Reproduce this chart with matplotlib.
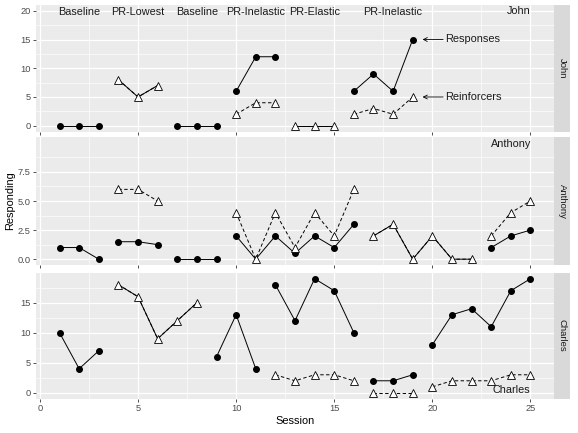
import numpy as np
import matplotlib
matplotlib.use("Agg")
import matplotlib.pyplot as plt
from matplotlib.ticker import FixedLocator

plt.rcParams['font.family'] = ['Liberation Sans', 'DejaVu Sans']

N = np.nan
sessions = list(range(1, 26))

subjects = ["John", "Anthony", "Charles"]

john_phase = [1,1,1, 2,2,2, 3,3,3, 4,4,4, 5,5,5, 6,6,6,6, 0,0,0,0,0,0]
john_resp  = [0,0,0, 8,5,7, 0,0,0, 6,12,12, 0,0,0, 6,9,6,15, N,N,N,N,N,N]
john_reinf = [N,N,N, 8,5,7, N,N,N, 2,4,4, 0,0,0, 2,3,2,5, N,N,N,N,N,N]

anthony_phase = [1,1,1, 2,2,2, 3,3,3, 4,4,4,4,4,4,4, 5,5,5,5,5,5, 6,6,6]
anthony_resp  = [1,1,0, 1.5,1.5,1.25, 0,0,0, 2,0,2,0.5,2,1,3, 2,3,0,2,0,0, 1,2,2.5]
anthony_reinf = [N,N,N, 6,6,5, N,N,N, 4,0,4,1,4,2,6, 2,3,0,2,0,0, 2,4,5]

charles_phase = [1,1,1, 2,2,2,2,2, 3,3,3, 4,4,4,4,4, 5,5,5, 6,6,6,6,6,6]
charles_resp  = [10,4,7, 18,16,9,12,15, 6,13,4, 18,12,19,17,10, 2,2,3, 8,13,14,11,17,19]
charles_reinf = [N,N,N, 18,16,9,12,15, N,N,N, 3,2,3,3,2, 0,0,0, 1,2,2,2,3,3]

phase_labels = ["Baseline", "PR-Lowest", "Baseline", "PR-Inelastic", "PR-Elastic", "PR-Inelastic"]
phase_label_x = [2, 5, 8, 11, 14, 18]
phase_label_y = 19.8

name_label_x = [24.4, 24, 24]
name_label_y = [20, 9.9, 0.5]

ylims = [(-1, 21), (-0.5, 10.5), (-0.95, 19.95)]
ymajor = [[0, 5, 10, 15, 20], [0, 2.5, 5, 7.5], [0, 5, 10, 15]]
ymajor_labels = [["0", "5", "10", "15", "20"], ["0.0", "2.5", "5.0", "7.5"], ["0", "5", "10", "15"]]
yminor = [[2.5, 7.5, 12.5, 17.5], [1.25, 3.75, 6.25, 8.75], [2.5, 7.5, 12.5, 17.5]]

data = {
    "John": (john_phase, john_resp, john_reinf),
    "Anthony": (anthony_phase, anthony_resp, anthony_reinf),
    "Charles": (charles_phase, charles_resp, charles_reinf),
}

W, H = 578, 433
fig = plt.figure(figsize=(W / 100, H / 100), dpi=100)
fig.patch.set_facecolor("white")

px_left, px_right = 36, 554
panels_px = [(5, 131.5), (137, 265), (273, 398.5)]
strip_w = 16

grey_txt = "#4D4D4D"

for i, subj in enumerate(subjects):
    top, bot = panels_px[i]
    ax = fig.add_axes([px_left / W, 1 - bot / H, (px_right - px_left) / W, (bot - top) / H])
    ax.set_facecolor("#EBEBEB")
    for s in ax.spines.values():
        s.set_visible(False)
    ax.set_xlim(-0.2, 26.2)
    ax.set_ylim(*ylims[i])
    ax.xaxis.set_major_locator(FixedLocator([0, 5, 10, 15, 20, 25]))
    ax.xaxis.set_minor_locator(FixedLocator([2.5, 7.5, 12.5, 17.5, 22.5]))
    ax.yaxis.set_major_locator(FixedLocator(ymajor[i]))
    ax.set_yticklabels(ymajor_labels[i])
    ax.yaxis.set_minor_locator(FixedLocator(yminor[i]))
    ax.grid(which="major", color="white", lw=0.9)
    ax.grid(which="minor", color="white", lw=0.45)
    ax.set_axisbelow(True)
    ax.tick_params(which="major", length=2.5, width=0.6, color="#333333",
                   labelsize=6.7, labelcolor=grey_txt, pad=1.5)
    ax.tick_params(which="minor", length=0)
    if i < 2:
        ax.set_xticklabels([])

    phase, resp, reinf = data[subj]
    phase = np.array(phase)
    resp = np.array(resp, dtype=float)
    reinf = np.array(reinf, dtype=float)
    x = np.array(sessions)
    for p in sorted(set(phase.tolist())):
        if p == 0:
            continue
        m = phase == p
        r = resp[m]
        f = reinf[m]
        if not np.all(np.isnan(r)):
            ax.plot(x[m], r, color="black", lw=0.7, zorder=3)
            show = np.isnan(f) | (f != r)
            ax.plot(x[m][show], r[show], "o", color="black", ms=4.0, zorder=4)
        if not np.all(np.isnan(f)):
            ax.plot(x[m], f, color="black", lw=0.7, ls=(0, (3.5, 2.5)), zorder=5)
            ax.plot(x[m], f, "^", mfc="white", mec="black", mew=0.6, ms=5.4, zorder=6)

    ax.text(name_label_x[i], name_label_y[i], subj, ha="center", va="center",
            fontsize=7.8, color="#1A1A1A")

    if i == 0:
        for lab, lx in zip(phase_labels, phase_label_x):
            ax.text(lx, phase_label_y, lab, ha="center", va="center", fontsize=7.8, color="#1A1A1A")
        for yv, lab in [(15, "Responses"), (5, "Reinforcers")]:
            ax.annotate("", xy=(19.5, yv), xytext=(20.55, yv),
                        arrowprops=dict(arrowstyle="->", color="black", lw=0.6,
                                        shrinkA=0, shrinkB=0, mutation_scale=7))
            ax.text(20.65, yv, lab, ha="left", va="center", fontsize=7.9, color="#1A1A1A")

    sax = fig.add_axes([px_right / W, 1 - bot / H, strip_w / W, (bot - top) / H])
    sax.set_facecolor("#D9D9D9")
    sax.set_xticks([])
    sax.set_yticks([])
    for s in sax.spines.values():
        s.set_visible(False)
    sax.text(0.5, 0.5, subj, rotation=-90, ha="center", va="center",
             fontsize=6.8, color="#1A1A1A", transform=sax.transAxes)

fig.text(10 / W, 1 - 201 / H, "Responding", rotation=90, ha="center", va="center",
         fontsize=7.9, color="black")
fig.text(295 / W, 1 - 421 / H, "Session", ha="center", va="center",
         fontsize=7.9, color="black")

fig.savefig("out.png", dpi=100, facecolor="white")
